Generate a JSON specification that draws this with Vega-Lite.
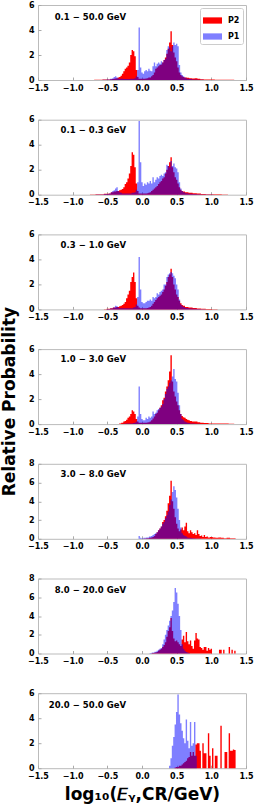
{
"$schema":"https://vega.github.io/schema/vega-lite/v6.json",
"padding":{"left":1,"top":0,"right":0,"bottom":2},
"title":{"text":"Relative Probability","orient":"left","anchor":"middle","fontSize":17,"fontWeight":"bold","font":"DejaVu Sans","color":"black","offset":8},
"datasets":{"h":[
{"p":1,"x":-0.70,"P2":0,"P1":0},{"p":1,"x":-0.68,"P2":0.02,"P1":0},{"p":1,"x":-0.60,"P2":0.03,"P1":0},{"p":1,"x":-0.54,"P2":0.05,"P1":0.02},{"p":1,"x":-0.48,"P2":0.05,"P1":0.05},{"p":1,"x":-0.44,"P2":0.07,"P1":0.1},{"p":1,"x":-0.42,"P2":0.08,"P1":0.15},{"p":1,"x":-0.40,"P2":0.1,"P1":0.25},{"p":1,"x":-0.38,"P2":0.12,"P1":0.3},{"p":1,"x":-0.36,"P2":0.15,"P1":0.2},{"p":1,"x":-0.34,"P2":0.2,"P1":0.12},{"p":1,"x":-0.32,"P2":0.25,"P1":0.1},{"p":1,"x":-0.30,"P2":0.35,"P1":0.1},{"p":1,"x":-0.28,"P2":0.5,"P1":0.1},{"p":1,"x":-0.26,"P2":0.7,"P1":0.08},{"p":1,"x":-0.24,"P2":0.9,"P1":0.08},{"p":1,"x":-0.22,"P2":1.0,"P1":0.08},{"p":1,"x":-0.20,"P2":1.15,"P1":0.08},{"p":1,"x":-0.18,"P2":1.4,"P1":0.08},{"p":1,"x":-0.16,"P2":2.0,"P1":0.1},{"p":1,"x":-0.14,"P2":2.4,"P1":0.1},{"p":1,"x":-0.12,"P2":2.3,"P1":0.1},{"p":1,"x":-0.10,"P2":1.9,"P1":0.15},{"p":1,"x":-0.08,"P2":0.8,"P1":0.3},{"p":1,"x":-0.06,"P2":0.25,"P1":0.8},{"p":1,"x":-0.04,"P2":0.1,"P1":4.2},{"p":1,"x":-0.02,"P2":0.1,"P1":1.0},{"p":1,"x":0.00,"P2":0.1,"P1":0.6},{"p":1,"x":0.02,"P2":0.1,"P1":0.5},{"p":1,"x":0.04,"P2":0.1,"P1":0.7},{"p":1,"x":0.06,"P2":0.12,"P1":0.8},{"p":1,"x":0.08,"P2":0.15,"P1":0.7},{"p":1,"x":0.10,"P2":0.2,"P1":0.9},{"p":1,"x":0.12,"P2":0.2,"P1":0.75},{"p":1,"x":0.14,"P2":0.3,"P1":0.7},{"p":1,"x":0.16,"P2":0.4,"P1":1.1},{"p":1,"x":0.18,"P2":0.6,"P1":1.4},{"p":1,"x":0.20,"P2":0.9,"P1":1.1},{"p":1,"x":0.22,"P2":1.0,"P1":1.3},{"p":1,"x":0.24,"P2":1.1,"P1":1.4},{"p":1,"x":0.26,"P2":1.2,"P1":1.3},{"p":1,"x":0.28,"P2":1.25,"P1":1.5},{"p":1,"x":0.30,"P2":1.4,"P1":1.4},{"p":1,"x":0.32,"P2":1.6,"P1":1.6},{"p":1,"x":0.34,"P2":1.8,"P1":1.7},{"p":1,"x":0.36,"P2":2.1,"P1":2.4},{"p":1,"x":0.38,"P2":2.5,"P1":2.7},{"p":1,"x":0.40,"P2":3.0,"P1":2.6},{"p":1,"x":0.42,"P2":3.9,"P1":2.3},{"p":1,"x":0.44,"P2":2.8,"P1":2.7},{"p":1,"x":0.46,"P2":2.2,"P1":3.0},{"p":1,"x":0.48,"P2":1.8,"P1":2.8},{"p":1,"x":0.50,"P2":1.5,"P1":2.9},{"p":1,"x":0.52,"P2":1.0,"P1":2.7},{"p":1,"x":0.54,"P2":0.6,"P1":1.2},{"p":1,"x":0.56,"P2":0.4,"P1":0.6},{"p":1,"x":0.58,"P2":0.3,"P1":0.4},{"p":1,"x":0.60,"P2":0.25,"P1":0.3},{"p":1,"x":0.62,"P2":0.2,"P1":0.2},{"p":1,"x":0.64,"P2":0.2,"P1":0.15},{"p":1,"x":0.66,"P2":0.18,"P1":0.1},{"p":1,"x":0.70,"P2":0.15,"P1":0.08},{"p":1,"x":0.74,"P2":0.12,"P1":0.05},{"p":1,"x":0.78,"P2":0.15,"P1":0.05},{"p":1,"x":0.82,"P2":0.1,"P1":0.03},{"p":1,"x":0.86,"P2":0.06,"P1":0.02},{"p":1,"x":0.92,"P2":0.05,"P1":0.01},{"p":1,"x":1.00,"P2":0.04,"P1":0},{"p":1,"x":1.10,"P2":0.03,"P1":0},{"p":1,"x":1.20,"P2":0.03,"P1":0},{"p":1,"x":1.30,"P2":0.02,"P1":0},{"p":1,"x":1.36,"P2":0,"P1":0},
{"p":2,"x":-0.76,"P2":0,"P1":0},{"p":2,"x":-0.74,"P2":0.02,"P1":0},{"p":2,"x":-0.60,"P2":0.04,"P1":0.02},{"p":2,"x":-0.50,"P2":0.08,"P1":0.05},{"p":2,"x":-0.46,"P2":0.1,"P1":0.1},{"p":2,"x":-0.44,"P2":0.2,"P1":0.2},{"p":2,"x":-0.42,"P2":0.2,"P1":0.3},{"p":2,"x":-0.40,"P2":0.25,"P1":0.35},{"p":2,"x":-0.38,"P2":0.25,"P1":0.5},{"p":2,"x":-0.36,"P2":0.3,"P1":0.6},{"p":2,"x":-0.34,"P2":0.3,"P1":0.3},{"p":2,"x":-0.32,"P2":0.35,"P1":0.2},{"p":2,"x":-0.30,"P2":0.4,"P1":0.15},{"p":2,"x":-0.28,"P2":0.45,"P1":0.1},{"p":2,"x":-0.26,"P2":0.6,"P1":0.1},{"p":2,"x":-0.24,"P2":0.85,"P1":0.1},{"p":2,"x":-0.22,"P2":1.0,"P1":0.1},{"p":2,"x":-0.20,"P2":1.3,"P1":0.1},{"p":2,"x":-0.18,"P2":1.7,"P1":0.1},{"p":2,"x":-0.16,"P2":2.3,"P1":0.1},{"p":2,"x":-0.14,"P2":3.4,"P1":0.15},{"p":2,"x":-0.12,"P2":3.2,"P1":0.15},{"p":2,"x":-0.10,"P2":2.2,"P1":0.2},{"p":2,"x":-0.08,"P2":0.9,"P1":0.4},{"p":2,"x":-0.06,"P2":0.3,"P1":1.0},{"p":2,"x":-0.04,"P2":0.1,"P1":5.9},{"p":2,"x":-0.02,"P2":0.1,"P1":2.6},{"p":2,"x":0.00,"P2":0.1,"P1":1.0},{"p":2,"x":0.02,"P2":0.1,"P1":0.7},{"p":2,"x":0.04,"P2":0.1,"P1":0.9},{"p":2,"x":0.06,"P2":0.1,"P1":0.8},{"p":2,"x":0.08,"P2":0.12,"P1":1.0},{"p":2,"x":0.10,"P2":0.15,"P1":0.9},{"p":2,"x":0.12,"P2":0.2,"P1":1.1},{"p":2,"x":0.14,"P2":0.3,"P1":0.9},{"p":2,"x":0.16,"P2":0.4,"P1":1.4},{"p":2,"x":0.18,"P2":0.5,"P1":1.0},{"p":2,"x":0.20,"P2":0.6,"P1":1.2},{"p":2,"x":0.22,"P2":0.7,"P1":1.4},{"p":2,"x":0.24,"P2":0.85,"P1":1.3},{"p":2,"x":0.26,"P2":1.0,"P1":1.5},{"p":2,"x":0.28,"P2":1.1,"P1":1.6},{"p":2,"x":0.30,"P2":1.3,"P1":1.5},{"p":2,"x":0.32,"P2":1.4,"P1":1.7},{"p":2,"x":0.34,"P2":1.7,"P1":1.8},{"p":2,"x":0.36,"P2":2.0,"P1":2.4},{"p":2,"x":0.38,"P2":2.3,"P1":2.3},{"p":2,"x":0.40,"P2":2.6,"P1":2.2},{"p":2,"x":0.42,"P2":3.0,"P1":2.7},{"p":2,"x":0.44,"P2":2.2,"P1":2.3},{"p":2,"x":0.46,"P2":1.8,"P1":2.5},{"p":2,"x":0.48,"P2":1.4,"P1":2.2},{"p":2,"x":0.50,"P2":1.2,"P1":2.1},{"p":2,"x":0.52,"P2":0.9,"P1":1.8},{"p":2,"x":0.54,"P2":0.6,"P1":1.0},{"p":2,"x":0.56,"P2":0.4,"P1":0.5},{"p":2,"x":0.58,"P2":0.3,"P1":0.3},{"p":2,"x":0.60,"P2":0.25,"P1":0.2},{"p":2,"x":0.64,"P2":0.2,"P1":0.12},{"p":2,"x":0.70,"P2":0.15,"P1":0.08},{"p":2,"x":0.76,"P2":0.12,"P1":0.05},{"p":2,"x":0.82,"P2":0.1,"P1":0.03},{"p":2,"x":0.88,"P2":0.05,"P1":0.02},{"p":2,"x":0.96,"P2":0.04,"P1":0.01},{"p":2,"x":1.10,"P2":0.03,"P1":0},{"p":2,"x":1.20,"P2":0.02,"P1":0},{"p":2,"x":1.28,"P2":0,"P1":0},
{"p":3,"x":-0.56,"P2":0,"P1":0},{"p":3,"x":-0.54,"P2":0.02,"P1":0},{"p":3,"x":-0.48,"P2":0.05,"P1":0.03},{"p":3,"x":-0.44,"P2":0.1,"P1":0.08},{"p":3,"x":-0.40,"P2":0.15,"P1":0.15},{"p":3,"x":-0.38,"P2":0.15,"P1":0.3},{"p":3,"x":-0.36,"P2":0.2,"P1":0.25},{"p":3,"x":-0.34,"P2":0.2,"P1":0.15},{"p":3,"x":-0.32,"P2":0.25,"P1":0.1},{"p":3,"x":-0.30,"P2":0.3,"P1":0.1},{"p":3,"x":-0.28,"P2":0.35,"P1":0.1},{"p":3,"x":-0.26,"P2":0.45,"P1":0.1},{"p":3,"x":-0.24,"P2":0.6,"P1":0.1},{"p":3,"x":-0.22,"P2":0.9,"P1":0.1},{"p":3,"x":-0.20,"P2":1.2,"P1":0.1},{"p":3,"x":-0.18,"P2":1.5,"P1":0.1},{"p":3,"x":-0.16,"P2":2.2,"P1":0.1},{"p":3,"x":-0.14,"P2":2.6,"P1":0.1},{"p":3,"x":-0.12,"P2":2.95,"P1":0.15},{"p":3,"x":-0.10,"P2":2.2,"P1":0.2},{"p":3,"x":-0.08,"P2":0.9,"P1":0.4},{"p":3,"x":-0.06,"P2":0.3,"P1":1.0},{"p":3,"x":-0.04,"P2":0.15,"P1":4.2},{"p":3,"x":-0.02,"P2":0.1,"P1":1.6},{"p":3,"x":0.00,"P2":0.1,"P1":0.6},{"p":3,"x":0.02,"P2":0.1,"P1":0.5},{"p":3,"x":0.04,"P2":0.1,"P1":0.5},{"p":3,"x":0.06,"P2":0.1,"P1":0.6},{"p":3,"x":0.08,"P2":0.12,"P1":0.7},{"p":3,"x":0.10,"P2":0.15,"P1":0.7},{"p":3,"x":0.12,"P2":0.2,"P1":0.8},{"p":3,"x":0.14,"P2":0.3,"P1":0.7},{"p":3,"x":0.16,"P2":0.45,"P1":1.0},{"p":3,"x":0.18,"P2":0.6,"P1":0.9},{"p":3,"x":0.20,"P2":0.75,"P1":1.0},{"p":3,"x":0.22,"P2":0.9,"P1":1.3},{"p":3,"x":0.24,"P2":1.0,"P1":1.2},{"p":3,"x":0.26,"P2":1.1,"P1":1.4},{"p":3,"x":0.28,"P2":1.2,"P1":1.5},{"p":3,"x":0.30,"P2":1.4,"P1":1.6},{"p":3,"x":0.32,"P2":1.6,"P1":2.0},{"p":3,"x":0.34,"P2":1.9,"P1":2.0},{"p":3,"x":0.36,"P2":2.2,"P1":2.6},{"p":3,"x":0.38,"P2":2.6,"P1":2.8},{"p":3,"x":0.40,"P2":2.8,"P1":2.9},{"p":3,"x":0.42,"P2":3.25,"P1":3.0},{"p":3,"x":0.44,"P2":2.6,"P1":2.9},{"p":3,"x":0.46,"P2":2.0,"P1":2.7},{"p":3,"x":0.48,"P2":1.6,"P1":2.5},{"p":3,"x":0.50,"P2":1.2,"P1":2.0},{"p":3,"x":0.52,"P2":1.0,"P1":1.6},{"p":3,"x":0.54,"P2":0.7,"P1":0.8},{"p":3,"x":0.56,"P2":0.5,"P1":0.4},{"p":3,"x":0.58,"P2":0.35,"P1":0.3},{"p":3,"x":0.60,"P2":0.3,"P1":0.2},{"p":3,"x":0.64,"P2":0.2,"P1":0.12},{"p":3,"x":0.70,"P2":0.15,"P1":0.08},{"p":3,"x":0.76,"P2":0.12,"P1":0.05},{"p":3,"x":0.82,"P2":0.08,"P1":0.03},{"p":3,"x":0.88,"P2":0.05,"P1":0.01},{"p":3,"x":0.96,"P2":0.03,"P1":0},{"p":3,"x":1.06,"P2":0.02,"P1":0},{"p":3,"x":1.12,"P2":0,"P1":0},
{"p":4,"x":-0.34,"P2":0,"P1":0},{"p":4,"x":-0.32,"P2":0.05,"P1":0},{"p":4,"x":-0.28,"P2":0.1,"P1":0},{"p":4,"x":-0.26,"P2":0.2,"P1":0.02},{"p":4,"x":-0.24,"P2":0.25,"P1":0.03},{"p":4,"x":-0.22,"P2":0.35,"P1":0.05},{"p":4,"x":-0.20,"P2":0.5,"P1":0.05},{"p":4,"x":-0.18,"P2":0.6,"P1":0.05},{"p":4,"x":-0.16,"P2":0.8,"P1":0.05},{"p":4,"x":-0.14,"P2":1.1,"P1":0.05},{"p":4,"x":-0.12,"P2":1.0,"P1":0.08},{"p":4,"x":-0.10,"P2":0.8,"P1":0.1},{"p":4,"x":-0.08,"P2":0.4,"P1":0.2},{"p":4,"x":-0.06,"P2":0.2,"P1":0.6},{"p":4,"x":-0.04,"P2":0.1,"P1":3.0},{"p":4,"x":-0.02,"P2":0.1,"P1":0.8},{"p":4,"x":0.00,"P2":0.1,"P1":0.4},{"p":4,"x":0.02,"P2":0.1,"P1":0.3},{"p":4,"x":0.04,"P2":0.1,"P1":0.3},{"p":4,"x":0.06,"P2":0.1,"P1":0.5},{"p":4,"x":0.08,"P2":0.12,"P1":0.4},{"p":4,"x":0.10,"P2":0.15,"P1":0.6},{"p":4,"x":0.12,"P2":0.2,"P1":0.5},{"p":4,"x":0.14,"P2":0.3,"P1":0.6},{"p":4,"x":0.16,"P2":0.45,"P1":1.0},{"p":4,"x":0.18,"P2":0.6,"P1":0.8},{"p":4,"x":0.20,"P2":0.8,"P1":0.9},{"p":4,"x":0.22,"P2":0.9,"P1":1.1},{"p":4,"x":0.24,"P2":1.1,"P1":1.2},{"p":4,"x":0.26,"P2":1.3,"P1":1.3},{"p":4,"x":0.28,"P2":1.5,"P1":1.4},{"p":4,"x":0.30,"P2":1.9,"P1":1.6},{"p":4,"x":0.32,"P2":2.1,"P1":2.0},{"p":4,"x":0.34,"P2":2.6,"P1":2.4},{"p":4,"x":0.36,"P2":3.0,"P1":2.8},{"p":4,"x":0.38,"P2":3.5,"P1":3.0},{"p":4,"x":0.40,"P2":4.2,"P1":3.3},{"p":4,"x":0.42,"P2":5.5,"P1":3.5},{"p":4,"x":0.44,"P2":3.4,"P1":3.8},{"p":4,"x":0.46,"P2":2.6,"P1":4.4},{"p":4,"x":0.48,"P2":2.2,"P1":3.6},{"p":4,"x":0.50,"P2":1.8,"P1":3.4},{"p":4,"x":0.52,"P2":1.5,"P1":2.5},{"p":4,"x":0.54,"P2":1.1,"P1":1.5},{"p":4,"x":0.56,"P2":0.8,"P1":0.8},{"p":4,"x":0.58,"P2":0.65,"P1":0.4},{"p":4,"x":0.60,"P2":0.55,"P1":0.3},{"p":4,"x":0.62,"P2":0.5,"P1":0.2},{"p":4,"x":0.64,"P2":0.4,"P1":0.15},{"p":4,"x":0.66,"P2":0.35,"P1":0.1},{"p":4,"x":0.68,"P2":0.3,"P1":0.08},{"p":4,"x":0.70,"P2":0.25,"P1":0.05},{"p":4,"x":0.74,"P2":0.2,"P1":0.04},{"p":4,"x":0.78,"P2":0.2,"P1":0.03},{"p":4,"x":0.82,"P2":0.15,"P1":0.02},{"p":4,"x":0.86,"P2":0.1,"P1":0.01},{"p":4,"x":0.92,"P2":0.08,"P1":0},{"p":4,"x":1.00,"P2":0.05,"P1":0},{"p":4,"x":1.10,"P2":0.04,"P1":0},{"p":4,"x":1.20,"P2":0.05,"P1":0},{"p":4,"x":1.30,"P2":0.03,"P1":0},{"p":4,"x":1.36,"P2":0,"P1":0},
{"p":5,"x":-0.06,"P2":0,"P1":0},{"p":5,"x":-0.04,"P2":0,"P1":0.3},{"p":5,"x":-0.02,"P2":0,"P1":0.1},{"p":5,"x":0.00,"P2":0,"P1":0.05},{"p":5,"x":0.04,"P2":0.02,"P1":0.1},{"p":5,"x":0.08,"P2":0.05,"P1":0.15},{"p":5,"x":0.12,"P2":0.1,"P1":0.25},{"p":5,"x":0.14,"P2":0.15,"P1":0.3},{"p":5,"x":0.16,"P2":0.2,"P1":0.4},{"p":5,"x":0.18,"P2":0.3,"P1":0.5},{"p":5,"x":0.20,"P2":0.5,"P1":0.6},{"p":5,"x":0.22,"P2":0.7,"P1":0.7},{"p":5,"x":0.24,"P2":0.9,"P1":0.9},{"p":5,"x":0.26,"P2":1.1,"P1":1.1},{"p":5,"x":0.28,"P2":1.3,"P1":1.3},{"p":5,"x":0.30,"P2":1.8,"P1":1.6},{"p":5,"x":0.32,"P2":2.0,"P1":1.8},{"p":5,"x":0.34,"P2":2.4,"P1":2.2},{"p":5,"x":0.36,"P2":3.0,"P1":2.5},{"p":5,"x":0.38,"P2":3.8,"P1":2.9},{"p":5,"x":0.40,"P2":4.6,"P1":3.6},{"p":5,"x":0.42,"P2":6.2,"P1":4.2},{"p":5,"x":0.44,"P2":4.0,"P1":5.0},{"p":5,"x":0.46,"P2":3.2,"P1":5.6},{"p":5,"x":0.48,"P2":2.3,"P1":5.2},{"p":5,"x":0.50,"P2":1.6,"P1":4.4},{"p":5,"x":0.52,"P2":1.1,"P1":3.2},{"p":5,"x":0.54,"P2":0.8,"P1":2.0},{"p":5,"x":0.56,"P2":1.0,"P1":1.2},{"p":5,"x":0.58,"P2":1.2,"P1":0.6},{"p":5,"x":0.60,"P2":0.9,"P1":0.4},{"p":5,"x":0.62,"P2":1.3,"P1":0.3},{"p":5,"x":0.64,"P2":1.7,"P1":0.25},{"p":5,"x":0.66,"P2":0.8,"P1":0.15},{"p":5,"x":0.68,"P2":0.6,"P1":0.12},{"p":5,"x":0.70,"P2":0.9,"P1":0.1},{"p":5,"x":0.72,"P2":0.7,"P1":0.08},{"p":5,"x":0.74,"P2":0.5,"P1":0.05},{"p":5,"x":0.76,"P2":0.6,"P1":0.05},{"p":5,"x":0.78,"P2":0.4,"P1":0.03},{"p":5,"x":0.80,"P2":0.9,"P1":0.03},{"p":5,"x":0.82,"P2":0.5,"P1":0.02},{"p":5,"x":0.84,"P2":0.3,"P1":0.02},{"p":5,"x":0.86,"P2":0.35,"P1":0},{"p":5,"x":0.88,"P2":0.2,"P1":0},{"p":5,"x":0.90,"P2":0.4,"P1":0},{"p":5,"x":0.92,"P2":0.2,"P1":0},{"p":5,"x":0.94,"P2":0.25,"P1":0},{"p":5,"x":0.96,"P2":0.15,"P1":0},{"p":5,"x":1.00,"P2":0.2,"P1":0},{"p":5,"x":1.04,"P2":0.15,"P1":0},{"p":5,"x":1.08,"P2":0.1,"P1":0},{"p":5,"x":1.12,"P2":0.15,"P1":0},{"p":5,"x":1.16,"P2":0.1,"P1":0},{"p":5,"x":1.20,"P2":0.05,"P1":0},{"p":5,"x":1.24,"P2":0.1,"P1":0},{"p":5,"x":1.30,"P2":0.05,"P1":0},{"p":5,"x":1.34,"P2":0.05,"P1":0},{"p":5,"x":1.36,"P2":0,"P1":0},
{"p":6,"x":0.10,"P2":0,"P1":0},{"p":6,"x":0.12,"P2":0,"P1":0.05},{"p":6,"x":0.16,"P2":0.05,"P1":0.1},{"p":6,"x":0.20,"P2":0.1,"P1":0.2},{"p":6,"x":0.22,"P2":0.15,"P1":0.3},{"p":6,"x":0.24,"P2":0.3,"P1":0.4},{"p":6,"x":0.26,"P2":0.4,"P1":0.5},{"p":6,"x":0.28,"P2":0.5,"P1":0.6},{"p":6,"x":0.30,"P2":0.7,"P1":1.0},{"p":6,"x":0.32,"P2":0.9,"P1":1.5},{"p":6,"x":0.34,"P2":1.2,"P1":2.0},{"p":6,"x":0.36,"P2":1.8,"P1":2.5},{"p":6,"x":0.38,"P2":2.4,"P1":3.0},{"p":6,"x":0.40,"P2":2.8,"P1":3.5},{"p":6,"x":0.42,"P2":3.8,"P1":4.0},{"p":6,"x":0.44,"P2":2.4,"P1":4.6},{"p":6,"x":0.46,"P2":1.6,"P1":5.5},{"p":6,"x":0.48,"P2":1.3,"P1":7.0},{"p":6,"x":0.50,"P2":1.4,"P1":6.5},{"p":6,"x":0.52,"P2":1.2,"P1":5.3},{"p":6,"x":0.54,"P2":1.0,"P1":4.0},{"p":6,"x":0.56,"P2":0.8,"P1":2.5},{"p":6,"x":0.58,"P2":1.5,"P1":1.0},{"p":6,"x":0.60,"P2":1.9,"P1":0.5},{"p":6,"x":0.62,"P2":1.2,"P1":0.3},{"p":6,"x":0.64,"P2":2.3,"P1":0.15},{"p":6,"x":0.66,"P2":1.3,"P1":0.1},{"p":6,"x":0.68,"P2":1.0,"P1":0.05},{"p":6,"x":0.70,"P2":1.4,"P1":0},{"p":6,"x":0.72,"P2":0.8,"P1":0},{"p":6,"x":0.74,"P2":0.5,"P1":0},{"p":6,"x":0.76,"P2":1.4,"P1":0},{"p":6,"x":0.78,"P2":2.2,"P1":0},{"p":6,"x":0.80,"P2":1.6,"P1":0},{"p":6,"x":0.82,"P2":1.5,"P1":0},{"p":6,"x":0.84,"P2":0.7,"P1":0},{"p":6,"x":0.86,"P2":0.6,"P1":0},{"p":6,"x":0.88,"P2":0.4,"P1":0},{"p":6,"x":0.90,"P2":0.7,"P1":0},{"p":6,"x":0.92,"P2":0.7,"P1":0},{"p":6,"x":0.94,"P2":0.3,"P1":0},{"p":6,"x":0.96,"P2":0.6,"P1":0},{"p":6,"x":0.98,"P2":0.4,"P1":0},{"p":6,"x":1.00,"P2":0.5,"P1":0},{"p":6,"x":1.02,"P2":0,"P1":0},{"p":6,"x":1.10,"P2":0,"P1":0},{"p":6,"x":1.12,"P2":0.4,"P1":0},{"p":6,"x":1.14,"P2":0.4,"P1":0},{"p":6,"x":1.16,"P2":0,"P1":0},{"p":6,"x":1.18,"P2":0.4,"P1":0},{"p":6,"x":1.20,"P2":0,"P1":0},{"p":6,"x":1.24,"P2":0,"P1":0},{"p":6,"x":1.26,"P2":0.7,"P1":0},{"p":6,"x":1.28,"P2":0,"P1":0},{"p":6,"x":1.30,"P2":0.4,"P1":0},{"p":6,"x":1.32,"P2":0,"P1":0},{"p":6,"x":1.34,"P2":0.3,"P1":0},{"p":6,"x":1.36,"P2":0,"P1":0},
{"p":7,"x":0.38,"P2":0,"P1":0},{"p":7,"x":0.40,"P2":0,"P1":0.2},{"p":7,"x":0.42,"P2":0,"P1":0.8},{"p":7,"x":0.44,"P2":0,"P1":1.8},{"p":7,"x":0.46,"P2":0,"P1":2.5},{"p":7,"x":0.48,"P2":0.05,"P1":3.5},{"p":7,"x":0.50,"P2":0.1,"P1":4.5},{"p":7,"x":0.52,"P2":0.1,"P1":5.9},{"p":7,"x":0.54,"P2":0.2,"P1":4.3},{"p":7,"x":0.56,"P2":0.2,"P1":3.6},{"p":7,"x":0.58,"P2":0.3,"P1":3.0},{"p":7,"x":0.60,"P2":0.4,"P1":2.4},{"p":7,"x":0.62,"P2":0.5,"P1":2.0},{"p":7,"x":0.64,"P2":0.6,"P1":3.9},{"p":7,"x":0.66,"P2":0.8,"P1":2.2},{"p":7,"x":0.68,"P2":0.9,"P1":1.6},{"p":7,"x":0.70,"P2":1.3,"P1":3.7},{"p":7,"x":0.72,"P2":1.0,"P1":1.8},{"p":7,"x":0.74,"P2":1.3,"P1":2.0},{"p":7,"x":0.76,"P2":1.0,"P1":3.7},{"p":7,"x":0.78,"P2":1.9,"P1":1.0},{"p":7,"x":0.80,"P2":2.0,"P1":0},{"p":7,"x":0.82,"P2":2.0,"P1":0},{"p":7,"x":0.84,"P2":1.4,"P1":0},{"p":7,"x":0.86,"P2":0,"P1":0},{"p":7,"x":0.88,"P2":2.0,"P1":0},{"p":7,"x":0.90,"P2":1.2,"P1":0},{"p":7,"x":0.92,"P2":1.2,"P1":0},{"p":7,"x":0.94,"P2":0,"P1":0},{"p":7,"x":0.96,"P2":2.8,"P1":0},{"p":7,"x":0.98,"P2":1.0,"P1":0},{"p":7,"x":1.00,"P2":0,"P1":0},{"p":7,"x":1.02,"P2":1.6,"P1":0},{"p":7,"x":1.04,"P2":0,"P1":0},{"p":7,"x":1.06,"P2":1.0,"P1":0},{"p":7,"x":1.08,"P2":1.0,"P1":0},{"p":7,"x":1.10,"P2":0,"P1":0},{"p":7,"x":1.12,"P2":0,"P1":0},{"p":7,"x":1.14,"P2":3.4,"P1":0},{"p":7,"x":1.16,"P2":0,"P1":0},{"p":7,"x":1.18,"P2":0,"P1":0},{"p":7,"x":1.20,"P2":1.3,"P1":0},{"p":7,"x":1.22,"P2":1.3,"P1":0},{"p":7,"x":1.24,"P2":0,"P1":0},{"p":7,"x":1.26,"P2":2.8,"P1":0},{"p":7,"x":1.28,"P2":1.4,"P1":0},{"p":7,"x":1.30,"P2":1.4,"P1":0},{"p":7,"x":1.32,"P2":1.5,"P1":0},{"p":7,"x":1.34,"P2":1.45,"P1":0},{"p":7,"x":1.36,"P2":0,"P1":0}
]},
"data":{"name":"h"},
"spacing":39.7,
"bounds":"flush",
"resolve":{"scale":{"color":"independent"},"legend":{"color":"independent"}},
"vconcat":[
{"width":208,"height":75,"transform":[{"filter":"datum.p==1"},{"fold":["P2","P1"],"as":["s","y"]}],
 "encoding":{"x":{"field":"x","type":"quantitative","scale":{"domain":[-1.5,1.5],"nice":false},"axis":{"values":[-1.5,-1,-0.5,0,0.5,1,1.5],"format":".1f","labelFlush":false,"labelOverlap":false,"title":null}},
  "y":{"field":"y","type":"quantitative","stack":null,"scale":{"domain":[0,6],"nice":false},"axis":{"values":[0,2,4,6],"format":"d","labelOverlap":false,"title":null}},
  "color":{"field":"s","type":"nominal","scale":{"domain":["P2","P1"],"range":["#ff0000","rgba(0,0,255,0.5)"]},"legend":{"title":null,"orient":"top-right","offset":3,"fillColor":"white","strokeColor":"#cccccc","cornerRadius":2,"padding":3,"symbolType":"M-1,-0.33H1V0.33H-1Z","symbolSize":361,"symbolStrokeWidth":0,"labelFont":"DejaVu Sans","labelFontSize":8,"labelFontWeight":"bold","labelColor":"black","labelOffset":6,"rowPadding":2}}},
 "layer":[
 {"transform":[{"filter":"datum.s=='P2'"}],"mark":{"type":"area","interpolate":"step","opacity":1}},
 {"transform":[{"filter":"datum.s=='P1'"}],"mark":{"type":"area","interpolate":"step","opacity":1}},
 {"transform":[{"filter":"datum.s=='P2' && datum.x==-0.7"}],"mark":{"type":"text","align":"right","baseline":"middle","font":"DejaVu Sans","fontSize":8.5,"fontWeight":"bold"},"encoding":{"x":{"datum":-0.23,"type":"quantitative","axis":{"values":[-1.5,-1,-0.5,0,0.5,1,1.5],"format":".1f","labelFlush":false,"labelOverlap":false,"title":null}},"y":{"datum":5.08,"type":"quantitative","axis":{"values":[0,2,4,6],"format":"d","labelOverlap":false,"title":null}},"text":{"value":"0.1 − 50.0 GeV"},"color":{"value":"black"}}}
]},
{"width":208,"height":75,"transform":[{"filter":"datum.p==2"},{"fold":["P2","P1"],"as":["s","y"]}],
 "encoding":{"x":{"field":"x","type":"quantitative","scale":{"domain":[-1.5,1.5],"nice":false},"axis":{"values":[-1.5,-1,-0.5,0,0.5,1,1.5],"format":".1f","labelFlush":false,"labelOverlap":false,"title":null}},
  "y":{"field":"y","type":"quantitative","stack":null,"scale":{"domain":[0,6],"nice":false},"axis":{"values":[0,2,4,6],"format":"d","labelOverlap":false,"title":null}},
  "color":{"field":"s","type":"nominal","scale":{"domain":["P2","P1"],"range":["#ff0000","rgba(0,0,255,0.5)"]},"legend":null}},
 "layer":[
 {"transform":[{"filter":"datum.s=='P2'"}],"mark":{"type":"area","interpolate":"step","opacity":1}},
 {"transform":[{"filter":"datum.s=='P1'"}],"mark":{"type":"area","interpolate":"step","opacity":1}},
 {"transform":[{"filter":"datum.s=='P2' && datum.x==-0.76"}],"mark":{"type":"text","align":"right","baseline":"middle","font":"DejaVu Sans","fontSize":8.5,"fontWeight":"bold"},"encoding":{"x":{"datum":-0.23,"type":"quantitative","axis":{"values":[-1.5,-1,-0.5,0,0.5,1,1.5],"format":".1f","labelFlush":false,"labelOverlap":false,"title":null}},"y":{"datum":5.15,"type":"quantitative","axis":{"values":[0,2,4,6],"format":"d","labelOverlap":false,"title":null}},"text":{"value":"0.1 − 0.3 GeV"},"color":{"value":"black"}}}
]},
{"width":208,"height":75,"transform":[{"filter":"datum.p==3"},{"fold":["P2","P1"],"as":["s","y"]}],
 "encoding":{"x":{"field":"x","type":"quantitative","scale":{"domain":[-1.5,1.5],"nice":false},"axis":{"values":[-1.5,-1,-0.5,0,0.5,1,1.5],"format":".1f","labelFlush":false,"labelOverlap":false,"title":null}},
  "y":{"field":"y","type":"quantitative","stack":null,"scale":{"domain":[0,6],"nice":false},"axis":{"values":[0,2,4,6],"format":"d","labelOverlap":false,"title":null}},
  "color":{"field":"s","type":"nominal","scale":{"domain":["P2","P1"],"range":["#ff0000","rgba(0,0,255,0.5)"]},"legend":null}},
 "layer":[
 {"transform":[{"filter":"datum.s=='P2'"}],"mark":{"type":"area","interpolate":"step","opacity":1}},
 {"transform":[{"filter":"datum.s=='P1'"}],"mark":{"type":"area","interpolate":"step","opacity":1}},
 {"transform":[{"filter":"datum.s=='P2' && datum.x==-0.56"}],"mark":{"type":"text","align":"right","baseline":"middle","font":"DejaVu Sans","fontSize":8.5,"fontWeight":"bold"},"encoding":{"x":{"datum":-0.23,"type":"quantitative","axis":{"values":[-1.5,-1,-0.5,0,0.5,1,1.5],"format":".1f","labelFlush":false,"labelOverlap":false,"title":null}},"y":{"datum":5.12,"type":"quantitative","axis":{"values":[0,2,4,6],"format":"d","labelOverlap":false,"title":null}},"text":{"value":"0.3 − 1.0 GeV"},"color":{"value":"black"}}}
]},
{"width":208,"height":75,"transform":[{"filter":"datum.p==4"},{"fold":["P2","P1"],"as":["s","y"]}],
 "encoding":{"x":{"field":"x","type":"quantitative","scale":{"domain":[-1.5,1.5],"nice":false},"axis":{"values":[-1.5,-1,-0.5,0,0.5,1,1.5],"format":".1f","labelFlush":false,"labelOverlap":false,"title":null}},
  "y":{"field":"y","type":"quantitative","stack":null,"scale":{"domain":[0,6],"nice":false},"axis":{"values":[0,2,4,6],"format":"d","labelOverlap":false,"title":null}},
  "color":{"field":"s","type":"nominal","scale":{"domain":["P2","P1"],"range":["#ff0000","rgba(0,0,255,0.5)"]},"legend":null}},
 "layer":[
 {"transform":[{"filter":"datum.s=='P2'"}],"mark":{"type":"area","interpolate":"step","opacity":1}},
 {"transform":[{"filter":"datum.s=='P1'"}],"mark":{"type":"area","interpolate":"step","opacity":1}},
 {"transform":[{"filter":"datum.s=='P2' && datum.x==-0.34"}],"mark":{"type":"text","align":"right","baseline":"middle","font":"DejaVu Sans","fontSize":8.5,"fontWeight":"bold"},"encoding":{"x":{"datum":-0.23,"type":"quantitative","axis":{"values":[-1.5,-1,-0.5,0,0.5,1,1.5],"format":".1f","labelFlush":false,"labelOverlap":false,"title":null}},"y":{"datum":5.2,"type":"quantitative","axis":{"values":[0,2,4,6],"format":"d","labelOverlap":false,"title":null}},"text":{"value":"1.0 − 3.0 GeV"},"color":{"value":"black"}}}
]},
{"width":208,"height":75,"transform":[{"filter":"datum.p==5"},{"fold":["P2","P1"],"as":["s","y"]}],
 "encoding":{"x":{"field":"x","type":"quantitative","scale":{"domain":[-1.5,1.5],"nice":false},"axis":{"values":[-1.5,-1,-0.5,0,0.5,1,1.5],"format":".1f","labelFlush":false,"labelOverlap":false,"title":null}},
  "y":{"field":"y","type":"quantitative","stack":null,"scale":{"domain":[0,8],"nice":false},"axis":{"values":[0,2,4,6,8],"format":"d","labelOverlap":false,"title":null}},
  "color":{"field":"s","type":"nominal","scale":{"domain":["P2","P1"],"range":["#ff0000","rgba(0,0,255,0.5)"]},"legend":null}},
 "layer":[
 {"transform":[{"filter":"datum.s=='P2'"}],"mark":{"type":"area","interpolate":"step","opacity":1}},
 {"transform":[{"filter":"datum.s=='P1'"}],"mark":{"type":"area","interpolate":"step","opacity":1}},
 {"transform":[{"filter":"datum.s=='P2' && datum.x==-0.06"}],"mark":{"type":"text","align":"right","baseline":"middle","font":"DejaVu Sans","fontSize":8.5,"fontWeight":"bold"},"encoding":{"x":{"datum":-0.23,"type":"quantitative","axis":{"values":[-1.5,-1,-0.5,0,0.5,1,1.5],"format":".1f","labelFlush":false,"labelOverlap":false,"title":null}},"y":{"datum":6.95,"type":"quantitative","axis":{"values":[0,2,4,6,8],"format":"d","labelOverlap":false,"title":null}},"text":{"value":"3.0 − 8.0 GeV"},"color":{"value":"black"}}}
]},
{"width":208,"height":75,"transform":[{"filter":"datum.p==6"},{"fold":["P2","P1"],"as":["s","y"]}],
 "encoding":{"x":{"field":"x","type":"quantitative","scale":{"domain":[-1.5,1.5],"nice":false},"axis":{"values":[-1.5,-1,-0.5,0,0.5,1,1.5],"format":".1f","labelFlush":false,"labelOverlap":false,"title":null}},
  "y":{"field":"y","type":"quantitative","stack":null,"scale":{"domain":[0,8],"nice":false},"axis":{"values":[0,2,4,6,8],"format":"d","labelOverlap":false,"title":null}},
  "color":{"field":"s","type":"nominal","scale":{"domain":["P2","P1"],"range":["#ff0000","rgba(0,0,255,0.5)"]},"legend":null}},
 "layer":[
 {"transform":[{"filter":"datum.s=='P2'"}],"mark":{"type":"area","interpolate":"step","opacity":1}},
 {"transform":[{"filter":"datum.s=='P1'"}],"mark":{"type":"area","interpolate":"step","opacity":1}},
 {"transform":[{"filter":"datum.s=='P2' && datum.x==0.1"}],"mark":{"type":"text","align":"right","baseline":"middle","font":"DejaVu Sans","fontSize":8.5,"fontWeight":"bold"},"encoding":{"x":{"datum":-0.23,"type":"quantitative","axis":{"values":[-1.5,-1,-0.5,0,0.5,1,1.5],"format":".1f","labelFlush":false,"labelOverlap":false,"title":null}},"y":{"datum":6.75,"type":"quantitative","axis":{"values":[0,2,4,6,8],"format":"d","labelOverlap":false,"title":null}},"text":{"value":"8.0 − 20.0 GeV"},"color":{"value":"black"}}}
]},
{"width":208,"height":75,"transform":[{"filter":"datum.p==7"},{"fold":["P2","P1"],"as":["s","y"]}],
 "encoding":{"x":{"field":"x","type":"quantitative","scale":{"domain":[-1.5,1.5],"nice":false},"axis":{"values":[-1.5,-1,-0.5,0,0.5,1,1.5],"format":".1f","labelFlush":false,"labelOverlap":false,"title":"log₁₀(𝘌ᵧ,CR/GeV)","titlePadding":6}},
  "y":{"field":"y","type":"quantitative","stack":null,"scale":{"domain":[0,6],"nice":false},"axis":{"values":[0,2,4,6],"format":"d","labelOverlap":false,"title":null}},
  "color":{"field":"s","type":"nominal","scale":{"domain":["P2","P1"],"range":["#ff0000","rgba(0,0,255,0.5)"]},"legend":null}},
 "layer":[
 {"transform":[{"filter":"datum.s=='P2'"}],"mark":{"type":"area","interpolate":"step","opacity":1}},
 {"transform":[{"filter":"datum.s=='P1'"}],"mark":{"type":"area","interpolate":"step","opacity":1}},
 {"transform":[{"filter":"datum.s=='P2' && datum.x==0.38"}],"mark":{"type":"text","align":"right","baseline":"middle","font":"DejaVu Sans","fontSize":8.5,"fontWeight":"bold"},"encoding":{"x":{"datum":-0.23,"type":"quantitative","axis":{"values":[-1.5,-1,-0.5,0,0.5,1,1.5],"format":".1f","labelFlush":false,"labelOverlap":false,"title":"log₁₀(𝘌ᵧ,CR/GeV)","titlePadding":6}},"y":{"datum":5.05,"type":"quantitative","axis":{"values":[0,2,4,6],"format":"d","labelOverlap":false,"title":null}},"text":{"value":"20.0 − 50.0 GeV"},"color":{"value":"black"}}}
]}
],
"config":{
 "view":{"stroke":"#bbbbbb","strokeWidth":1},
 "font":"DejaVu Sans",
 "axis":{"domain":false,"grid":false,"ticks":true,"tickSize":-3,"tickColor":"#aaaaaa","labelFont":"DejaVu Sans","labelFontSize":8,"labelFontWeight":"bold","labelColor":"black","labelPadding":7,"labelOverlap":false,"titleFont":"DejaVu Sans","titleFontSize":17,"titleFontWeight":"bold","titleColor":"black"}
}
}
